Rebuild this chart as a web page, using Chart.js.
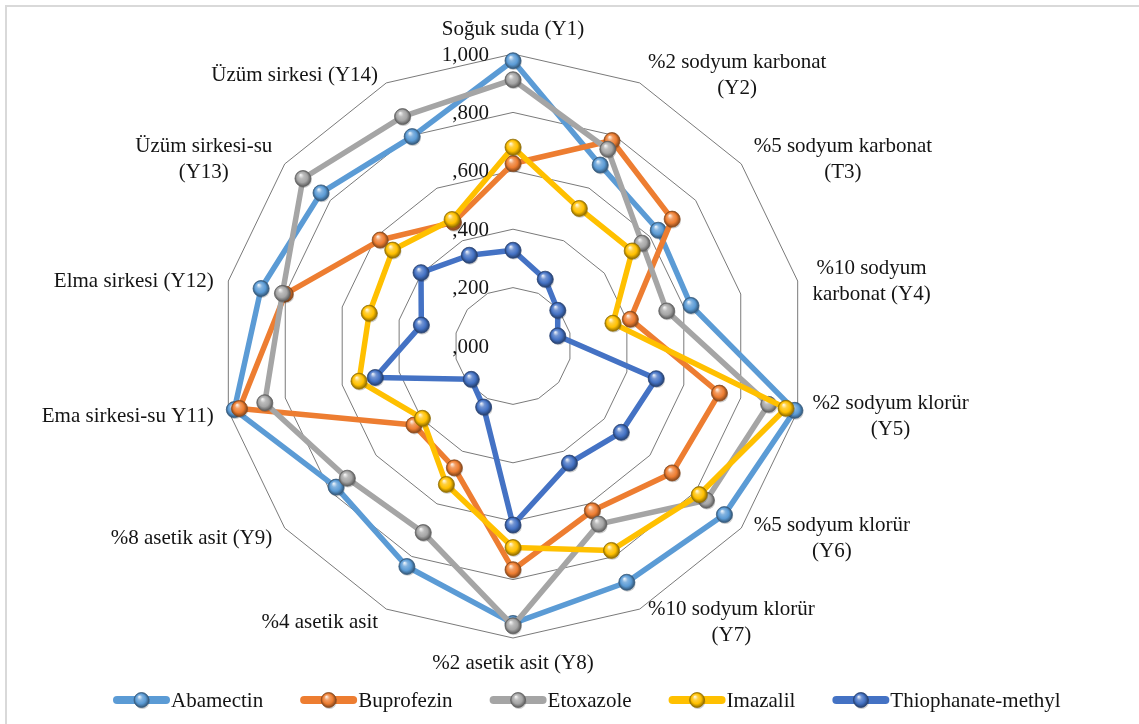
<!DOCTYPE html>
<html>
<head>
<meta charset="utf-8">
<script src="https://cdn.jsdelivr.net/npm/chart.js@4"></script>
<style>
  html, body { margin: 0; padding: 0; background: #ffffff; }
  #wrap { position: relative; width: 1139px; height: 724px; }
</style>
</head>
<body>
<div id="wrap"><canvas id="c"></canvas></div>
<script>
// Axis categories (multi-line labels as arrays)
const categories = [
  ["Soğuk suda (Y1)"],
  ["%2 sodyum karbonat", "(Y2)"],
  ["%5 sodyum karbonat", "(T3)"],
  ["%10 sodyum", "karbonat (Y4)"],
  ["%2 sodyum klorür", "(Y5)"],
  ["%5 sodyum klorür", "(Y6)"],
  ["%10 sodyum klorür", "(Y7)"],
  ["%2 asetik asit (Y8)"],
  ["%4 asetik asit"],
  ["%8 asetik asit (Y9)"],
  ["Ema sirkesi-su Y11)"],
  ["Elma sirkesi (Y12)"],
  ["Üzüm sirkesi-su", "(Y13)"],
  ["Üzüm sirkesi (Y14)"]
];

// Series values
const abamectin   = [0.977, 0.688, 0.636, 0.625, 0.990, 0.926, 0.898, 0.950, 0.838, 0.775, 0.979, 0.885, 0.841, 0.796];
const buprofezin  = [0.625, 0.781, 0.697, 0.412, 0.725, 0.697, 0.626, 0.766, 0.463, 0.434, 0.961, 0.800, 0.582, 0.470];
const etoxazole   = [0.912, 0.748, 0.565, 0.540, 0.898, 0.847, 0.677, 0.958, 0.709, 0.726, 0.872, 0.810, 0.920, 0.872];
const imazalil    = [0.681, 0.523, 0.522, 0.351, 0.959, 0.816, 0.777, 0.690, 0.526, 0.397, 0.541, 0.505, 0.527, 0.481];
const thiophanate = [0.328, 0.254, 0.196, 0.157, 0.503, 0.474, 0.445, 0.613, 0.232, 0.183, 0.484, 0.322, 0.403, 0.345];

const seriesNames = ["Abamectin", "Buprofezin", "Etoxazole", "Imazalil", "Thiophanate-methyl"];

// Radial tick values and their labels
const tickValues = [0, 0.2, 0.4, 0.6, 0.8, 1.0];
const tickLabels = [",000", ",200", ",400", ",600", ",800", "1,000"];

const colors = ["#5B9BD5", "#ED7D31", "#A5A5A5", "#FFC000", "#4472C4"];
const FONT = "21px 'Liberation Serif', 'Times New Roman', serif";
const TEXT = "#141414";

function hexToRgb(h) {
  const n = parseInt(h.slice(1), 16);
  return [(n >> 16) & 255, (n >> 8) & 255, n & 255];
}
function mix(h, target, t) {
  const c = hexToRgb(h);
  return "rgb(" + c.map(v => Math.round(v + (target - v) * t)).join(",") + ")";
}

// Glossy sphere marker
function drawSphere(ctx, x, y, r, color) {
  ctx.save();
  ctx.beginPath();
  ctx.arc(x + 0.8, y + 1.4, r, 0, Math.PI * 2);
  ctx.fillStyle = "rgba(0,0,0,0.2)";
  ctx.fill();
  const g = ctx.createRadialGradient(x - r * 0.3, y - r * 0.45, r * 0.05, x, y, r);
  g.addColorStop(0, mix(color, 255, 0.85));
  g.addColorStop(0.3, mix(color, 255, 0.25));
  g.addColorStop(0.65, color);
  g.addColorStop(1, mix(color, 0, 0.45));
  ctx.beginPath();
  ctx.arc(x, y, r, 0, Math.PI * 2);
  ctx.fillStyle = g;
  ctx.fill();
  ctx.lineWidth = 0.8;
  ctx.strokeStyle = mix(color, 0, 0.4);
  ctx.stroke();
  ctx.restore();
}

const allSeries = [abamectin, buprofezin, etoxazole, imazalil, thiophanate];

const datasets = allSeries.map((vals, i) => ({
  label: seriesNames[i],
  data: vals,
  borderColor: colors[i],
  backgroundColor: colors[i],
  borderWidth: 5.5,
  borderJoinStyle: "round",
  fill: false,
  tension: 0,
  pointRadius: 0,
  pointHoverRadius: 0,
  order: allSeries.length - i,
  sphereColor: colors[i]
}));

const decorPlugin = {
  id: "decor",
  beforeDraw(chart) {
    const ctx = chart.ctx;
    ctx.save();
    ctx.fillStyle = "#ffffff";
    ctx.fillRect(0, 0, chart.width, chart.height);
    // chart frame
    ctx.strokeStyle = "#d9d9d9";
    ctx.lineWidth = 2;
    ctx.strokeRect(6, 6, chart.width + 20, chart.height + 20);
    ctx.restore();
  },
  afterDatasetDraw(chart, args) {
    const meta = args.meta;
    const color = chart.data.datasets[args.index].sphereColor;
    meta.data.forEach(pt => drawSphere(chart.ctx, pt.x, pt.y, 8, color));
  },
  afterDatasetsDraw(chart) {
    const ctx = chart.ctx;
    const scale = chart.scales.r;
    const cx = scale.xCenter, cy = scale.yCenter;
    ctx.save();
    ctx.font = FONT;
    ctx.fillStyle = TEXT;
    // tick labels, left of the vertical axis
    ctx.textAlign = "right";
    ctx.textBaseline = "middle";
    tickValues.forEach((v, i) => {
      const d = scale.getDistanceFromCenterForValue(v);
      ctx.fillText(tickLabels[i], cx - 24, cy - d + 1);
    });
    // category labels around the web
    const R = scale.drawingArea;
    const lh = 26;
    chart.data.labels.forEach((lines, i) => {
      const p = scale.getPointPosition(i, R + 12);
      const dx = p.x - cx;
      const n = lines.length;
      const widths = lines.map(s => ctx.measureText(s).width);
      const bw = Math.max(...widths);
      let left, top;
      if (Math.abs(dx) < 4) {
        left = p.x - bw / 2;
        top = (p.y < cy) ? p.y - n * lh : p.y;
      } else if (dx > 0) {
        left = p.x + 3;
        top = p.y - n * lh / 2 + 3;
      } else {
        left = p.x - bw - 3;
        top = p.y - n * lh / 2 + 3;
      }
      ctx.textAlign = "center";
      lines.forEach((s, k) => {
        ctx.fillText(s, left + bw / 2, top + lh * k + lh / 2);
      });
    });
    ctx.restore();
  },
  afterDraw(chart) {
    // legend
    const ctx = chart.ctx;
    ctx.save();
    ctx.font = FONT;
    ctx.textAlign = "left";
    ctx.textBaseline = "middle";
    let x = 113;
    const y = 700;
    chart.data.datasets.forEach(ds => {
      ctx.beginPath();
      ctx.moveTo(x + 4, y);
      ctx.lineTo(x + 53, y);
      ctx.lineCap = "round";
      ctx.lineWidth = 8;
      ctx.strokeStyle = ds.borderColor;
      ctx.stroke();
      drawSphere(ctx, x + 28.5, y, 7.5, ds.sphereColor);
      ctx.fillStyle = TEXT;
      ctx.fillText(ds.label, x + 58, y + 1);
      x += 58 + ctx.measureText(ds.label).width + 37;
    });
    ctx.restore();
  }
};

new Chart(document.getElementById("c"), {
  type: "radar",
  data: { labels: categories, datasets: datasets },
  options: {
    responsive: true,
    maintainAspectRatio: false,
    animation: false,
    layout: { padding: { left: 221, right: 334, top: 54, bottom: 86 } },
    plugins: {
      legend: { display: false },
      tooltip: { enabled: false }
    },
    elements: { line: { borderCapStyle: "round" } },
    scales: {
      r: {
        min: 0,
        max: 1,
        ticks: { display: false, stepSize: 0.2 },
        grid: { color: "#7a7a7a", lineWidth: 1, circular: false },
        angleLines: { display: false },
        pointLabels: { display: false }
      }
    }
  },
  plugins: [decorPlugin]
});
</script>
</body>
</html>
